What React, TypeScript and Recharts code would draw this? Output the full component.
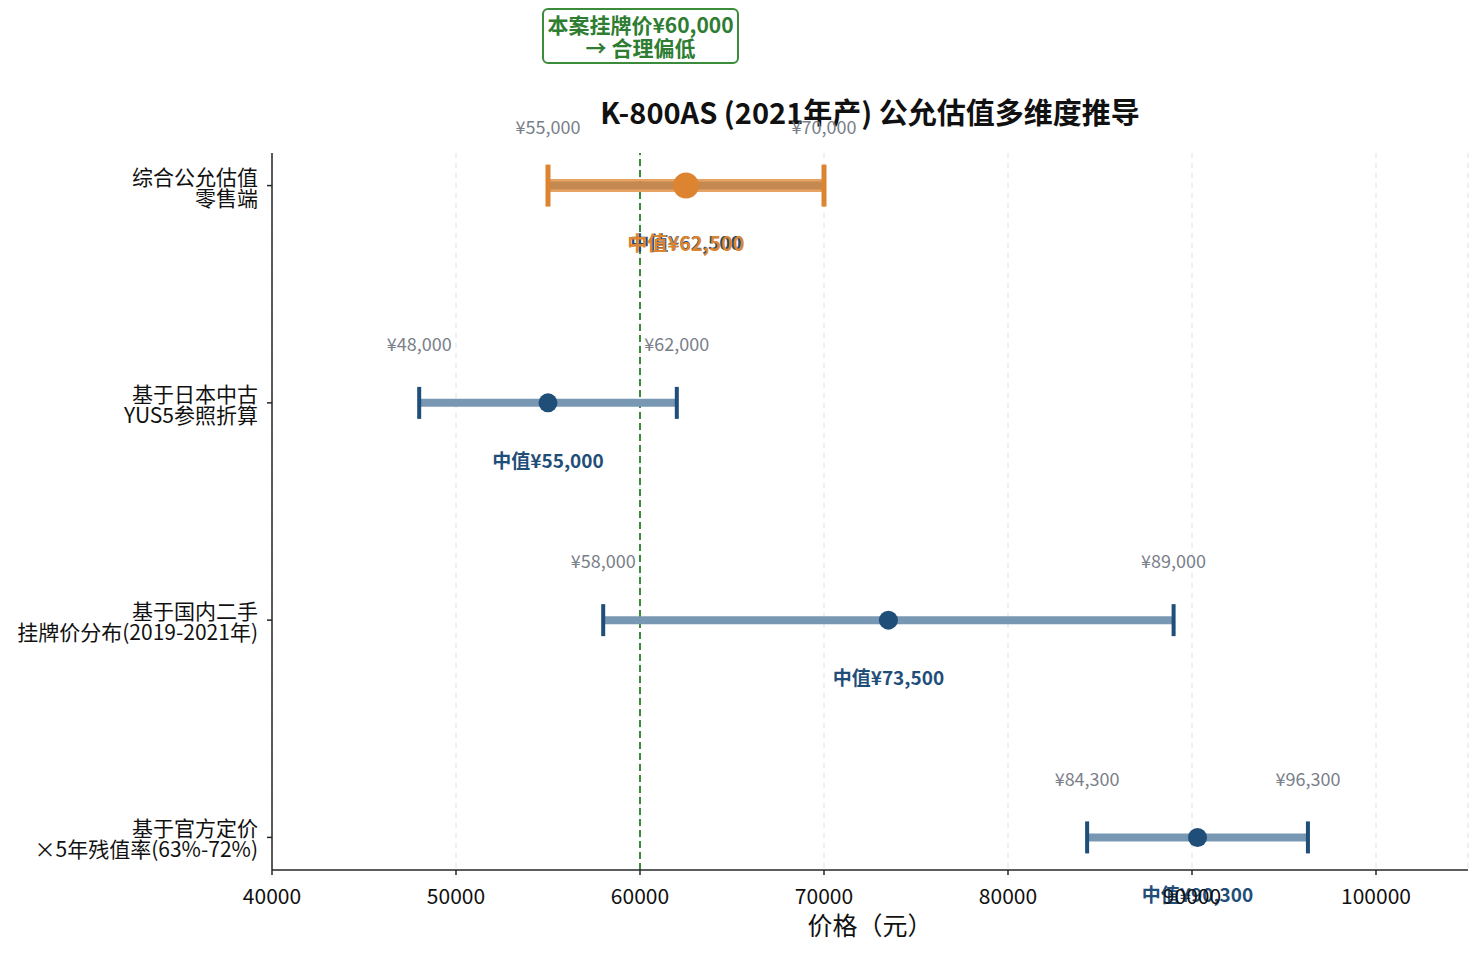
import React from "react";
import {
  ComposedChart,
  Scatter,
  XAxis,
  YAxis,
  CartesianGrid,
  ReferenceLine,
} from "recharts";

const categories = [
  ["综合公允估值", "零售端"],
  ["基于日本中古", "YUS5参照折算"],
  ["基于国内二手", "挂牌价分布(2019-2021年)"],
  ["基于官方定价", "×5年残值率(63%-72%)"],
];
const lows = [55000, 48000, 58000, 84300];
const highs = [70000, 62000, 89000, 96300];
const medians = [62500, 55000, 73500, 90300];
const listPrice = 60000;
const xTicks = [40000, 50000, 60000, 70000, 80000, 90000, 100000];

const FONT = '"Noto Sans CJK SC", "Noto Sans", sans-serif';
const BLUE = "#1f4e79";
const BLUE_LINE = "#7897b3";
const ORANGE = "#dd8430";
const GREEN = "#3a8b3a";
const GRAY = "#7a808a";

const yen = (v: number) => "¥" + v.toLocaleString("en-US");

const rangeData = (i: number) => [
  { x: lows[i], y: i, v: lows[i] },
  { x: highs[i], y: i, v: highs[i] },
];

const makeCap = (color: string, w: number, h: number, showLabel: boolean) => (props: any) => {
  const { cx, cy, payload } = props;
  return (
    <g>
      <rect x={cx - w / 2} y={cy - h / 2} width={w} height={h} fill={color} />
      {showLabel && (
        <text x={cx} y={cy - 58} textAnchor="middle" dy="0.35em" fontSize={18} fill={GRAY} fontFamily={FONT}>
          {yen(payload.v)}
        </text>
      )}
    </g>
  );
};

const makeDot = (color: string, r: number, fs: number) => (props: any) => {
  const { cx, cy, payload } = props;
  return (
    <g>
      <circle cx={cx} cy={cy} r={r} fill={color} />
      <text x={cx} y={cy + 58} textAnchor="middle" dy="0.35em" fontSize={fs} fontWeight="bold" fill={color} fontFamily={FONT}>
        {"中值" + yen(payload.x)}
      </text>
    </g>
  );
};

const YTick = (props: any) => {
  const { x, y, payload } = props;
  const lines = categories[payload.value] || [];
  return (
    <text x={x - 7} y={y} textAnchor="end" fontSize={21} fill="#111" fontFamily={FONT}>
      <tspan x={x - 7} dy="-0.05em">{lines[0]}</tspan>
      <tspan x={x - 7} dy="1em">{lines[1]}</tspan>
    </text>
  );
};

const XTick = (props: any) => {
  const { x, y, payload } = props;
  return (
    <text x={x} y={y + 20} textAnchor="middle" dy="0.35em" fontSize={21} fill="#111" fontFamily={FONT}>
      {payload.value}
    </text>
  );
};

export default function App() {
  return (
    <div style={{ position: "relative", width: 1475, height: 947, fontFamily: FONT }}>
      <div
        style={{
          position: "absolute",
          left: 534,
          top: 0,
          width: 193,
          height: 52,
          border: `2px solid ${GREEN}`,
          borderRadius: 6,
          color: "#2e7d32",
          fontWeight: "bold",
          fontSize: 21,
          lineHeight: "23px",
          textAlign: "center",
          display: "flex",
          flexDirection: "column",
          justifyContent: "center",
          background: "#fff",
          zIndex: 2,
        }}
      >
        <div>本案挂牌价¥60,000</div>
        <div>→ 合理偏低</div>
      </div>
      <div
        style={{
          position: "absolute",
          left: 0,
          width: 1724,
          top: 86,
          textAlign: "center",
          fontSize: 29,
          fontWeight: "bold",
          lineHeight: "34px",
          color: "#111",
        }}
      >
        K-800AS (2021年产) 公允估值多维度推导
      </div>
      <ComposedChart
        width={1475}
        height={947}
        margin={{ top: 145, right: 15, bottom: 0, left: 0 }}
        style={{ position: "absolute", left: 0, top: 0 }}
      >
        <CartesianGrid horizontal={false} stroke="#e0e0e0" strokeDasharray="5 5" />
        <XAxis
          type="number"
          dataKey="x"
          domain={[40000, 105000]}
          ticks={xTicks}
          height={85}
          tick={<XTick />}
          tickSize={5}
          stroke="#262626"
          strokeWidth={1.5}
          label={{ value: "价格（元）", position: "insideBottom", offset: 20, fontSize: 25, fill: "#111", fontFamily: FONT }}
        />
        <YAxis
          type="number"
          dataKey="y"
          domain={[-0.15, 3.15]}
          reversed
          ticks={[0, 1, 2, 3]}
          width={264}
          tick={<YTick />}
          tickSize={5}
          stroke="#262626"
          strokeWidth={1.5}
        />
        <ReferenceLine x={listPrice} stroke={GREEN} strokeWidth={2} strokeDasharray="7 4" />
        {[0, 1, 2, 3].map((i) => (
          <Scatter
            key={"r" + i}
            data={rangeData(i)}
            line={{ stroke: BLUE_LINE, strokeWidth: 8 }}
            shape={makeCap(BLUE, 4, 32, i !== 0)}
            isAnimationActive={false}
          />
        ))}
        {[0, 1, 2, 3].map((i) => (
          <Scatter
            key={"m" + i}
            data={[{ x: medians[i], y: i }]}
            shape={makeDot(BLUE, 9.5, 19)}
            isAnimationActive={false}
          />
        ))}
        <Scatter
          data={rangeData(0)}
          line={{ stroke: ORANGE, strokeWidth: 13, strokeOpacity: 0.75 }}
          shape={makeCap(ORANGE, 5, 42, true)}
          isAnimationActive={false}
        />
        <Scatter
          data={[{ x: medians[0], y: 0 }]}
          shape={makeDot(ORANGE, 13, 20)}
          isAnimationActive={false}
        />
      </ComposedChart>
    </div>
  );
}
